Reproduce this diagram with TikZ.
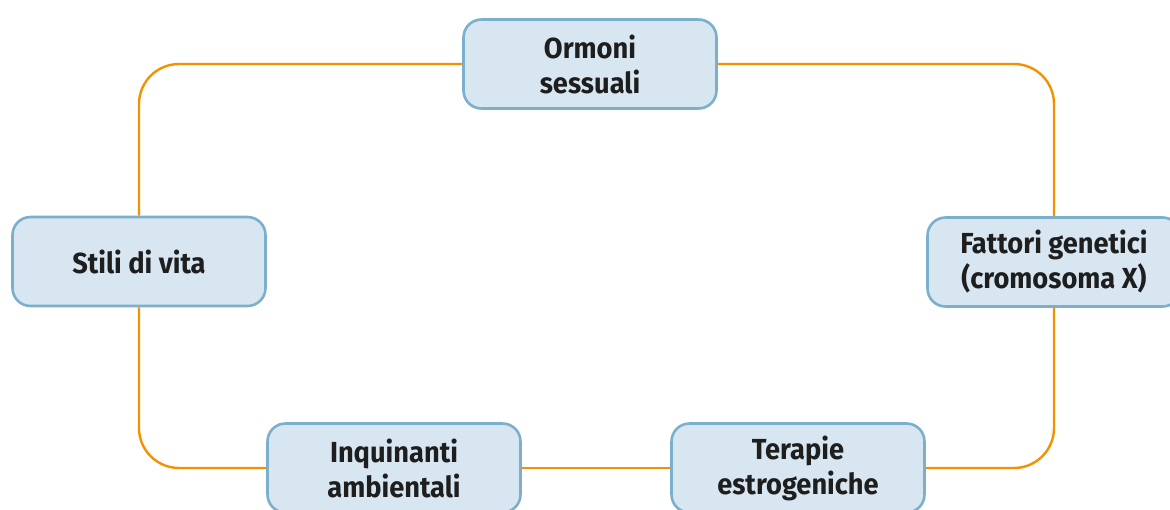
\documentclass[tikz,border=0pt]{standalone}
\usepackage{fontspec}
\setsansfont{Fira Sans}[BoldFont={Fira Sans Bold},FakeStretch=0.94]
\definecolor{boxfill}{HTML}{D7E6F1}
\definecolor{boxdraw}{HTML}{7BAFCB}
\definecolor{loop}{HTML}{F39200}
\definecolor{txt}{HTML}{1E1E1E}
\tikzset{
  box/.style={draw=boxdraw, line width=2.6pt, fill=boxfill, rounded corners=18pt,
    minimum width=253pt, minimum height=89pt, align=center, inner sep=0pt,
    font=\sffamily\bfseries\fontsize{29}{35}\selectfont, text=txt},
  link/.style={draw=loop, line width=2.4pt, rounded corners=40pt}
}
\begin{document}
\begin{tikzpicture}[x=1pt,y=-1pt]
\useasboundingbox (0,0) rectangle (1170,509);
\node[box] (ormoni) at (590,64) {Ormoni\\sessuali};
\node[box] (stili) at (139,261.5) {Stili di vita};
\node[box] (fattori) at (1054,262) {Fattori genetici\\(cromosoma X)};
\node[box] (inquinanti) at (394,468) {Inquinanti\\ambientali};
\node[box] (terapie) at (798,468) {Terapie\\estrogeniche};
\draw[link] (stili.north) |- (ormoni.west);
\draw[link] (ormoni.east) -| (fattori.north);
\draw[link] (fattori.south) |- (terapie.east);
\draw[link] (terapie.west) -- (inquinanti.east);
\draw[link] (inquinanti.west) -| (stili.south);
\end{tikzpicture}
\end{document}
